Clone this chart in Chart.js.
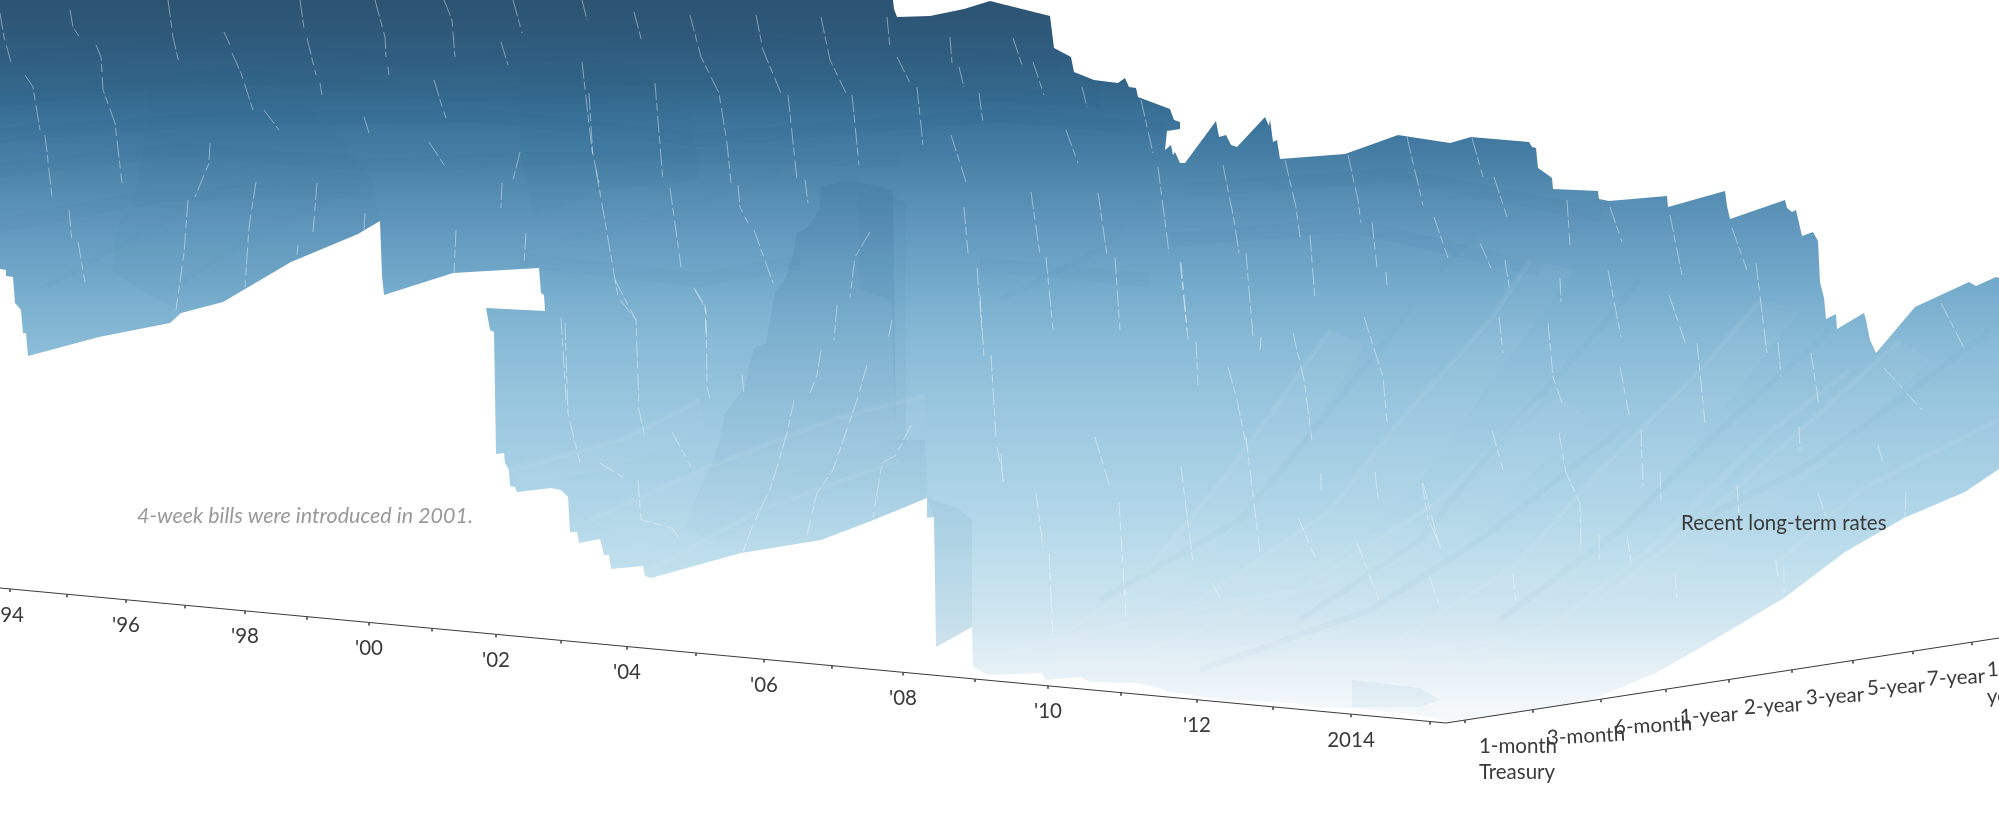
<!DOCTYPE html>
<html><head><meta charset="utf-8">
<style>html,body{margin:0;padding:0;background:#fff}canvas{display:block}</style>
<script src="https://cdn.jsdelivr.net/npm/chart.js@4"></script>
</head><body><canvas id="c" width="1999" height="822"></canvas>
<script>
const surfaceOutline=[[0,0],[893,0],[894,9],[897,17],[930,16],[964,9],[990,1],[1050,16],[1054,48],[1071,57],[1074,72],[1094,80],[1118,83],[1125,78],[1129,87],[1136,88],[1138,97],[1170,109],[1174,120],[1180,122],[1180,129],[1167,131],[1165,150],[1171,145],[1173,155],[1175,152],[1180,163],[1185,163],[1216,121],[1219,137],[1226,135],[1231,145],[1237,147],[1265,117],[1269,126],[1270,119],[1273,142],[1277,140],[1280,159],[1345,154],[1398,135],[1450,143],[1471,137],[1529,142],[1532,147],[1536,148],[1538,168],[1548,175],[1552,178],[1553,189],[1598,191],[1599,199],[1609,201],[1667,196],[1668,207],[1725,191],[1727,206],[1730,219],[1785,200],[1787,208],[1792,212],[1796,210],[1802,236],[1813,232],[1818,241],[1820,282],[1824,298],[1826,319],[1836,314],[1837,329],[1864,313],[1866,320],[1870,340],[1876,353],[1915,307],[1969,282],[1976,286],[1996,277],[1999,278],[1999,469],[1965,492],[1904,518],[1845,552],[1784,598],[1717,638],[1656,673],[1591,700],[1537,710],[1446,722],[1436,718],[1400,713],[1348,708],[1310,707],[1294,703],[1225,700],[1168,692],[1160,688],[1137,683],[1090,682],[1080,677],[1045,680],[1042,673],[988,675],[973,667],[972,627],[936,647],[934,517],[927,518],[927,498],[871,521],[821,540],[741,553],[651,578],[645,576],[643,566],[611,569],[609,555],[604,555],[600,539],[579,543],[577,532],[570,532],[568,497],[561,490],[551,488],[517,492],[515,487],[510,486],[509,470],[505,463],[504,453],[496,454],[494,332],[490,330],[486,308],[545,311],[544,295],[541,293],[539,268],[453,273],[384,295],[382,275],[380,221],[358,234],[291,262],[223,302],[181,313],[170,323],[99,337],[28,356],[26,333],[23,333],[21,310],[15,303],[13,277],[6,276],[6,270],[0,269]];

const panel2007=[[821,187],[841,182],[859,182],[893,190],[896,440],[925,440],[927,498],[871,521],[821,540],[741,553],[684,528],[692,507],[703,483],[712,462],[720,440],[725,413],[745,387],[750,363],[754,348],[766,343],[775,293],[786,277],[795,247],[797,233],[808,227],[819,210]];
const panelStrip=[[858,192],[893,197],[906,203],[906,445],[896,440],[892,300],[860,290]];
const panelFront=[[927,498],[934,517],[936,647],[972,627],[972,520],[958,508]];
const panelLeft=[[151,83],[300,95],[373,180],[378,221],[358,234],[291,262],[223,302],[181,313],[113,273],[117,227],[134,200],[145,143]];
const panelUpper=[[520,60],[620,55],[690,110],[700,180],[600,190],[534,217],[520,150]];
const panelLow=[[1352,680],[1420,688],[1440,700],[1420,707],[1352,707]];

const fanWedges=[
[[1400,640],[1520,560],[1600,470],[1700,370],[1760,300],[1800,310],[1730,400],[1640,510],[1560,590],[1450,655]],
[[1200,600],[1330,510],[1400,420],[1490,320],[1530,260],[1575,270],[1500,370],[1430,470],[1350,550],[1240,615]],
[[1600,600],[1700,520],[1800,430],[1900,340],[1930,360],[1830,460],[1720,550],[1630,610]],
[[1053,640],[1130,590],[1230,470],[1330,330],[1365,345],[1270,490],[1170,595],[1085,640]],
[[1053,640],[1200,600],[1352,625],[1210,660],[1060,672]],
[[1150,682],[1300,645],[1500,625],[1400,665],[1250,688]],
[[1300,570],[1440,500],[1560,395],[1590,420],[1470,530],[1340,590]],
[[590,520],[700,470],[830,420],[925,395],[925,430],[800,470],[640,550]],
[[510,470],[620,440],[700,400],[705,430],[610,470],[520,485]]];
const lightRidges=[
[[1400,640],[1520,560],[1600,470],[1700,370],[1760,300]],
[[1600,600],[1700,520],[1800,430],[1900,340]],
[[1200,600],[1330,510],[1400,420],[1490,320],[1530,260]],
[[1053,640],[1130,590],[1230,470],[1330,330]],
[[1120,660],[1300,590],[1440,500],[1540,400]],
[[1400,680],[1560,620],[1660,540],[1760,440],[1850,370]],
[[1780,560],[1860,490],[1999,420]],
[[1000,655],[1100,630],[1240,600],[1330,585]],
[[1100,665],[1230,650],[1352,630]],
[[1150,682],[1300,665],[1500,640]],
[[1240,690],[1380,672],[1560,655]],
[[590,520],[700,470],[830,420],[925,395]],
[[650,570],[760,510],[900,460]],
[[510,470],[620,440],[700,400]]];
const darkRidges=[
[[1500,620],[1620,530],[1720,430],[1830,330]],
[[1300,620],[1420,540],[1500,440],[1590,340],[1640,280]],
[[1100,600],[1240,520],[1330,410],[1410,310]],
[[1200,670],[1370,610],[1480,540],[1620,430]],
[[1700,520],[1800,470],[1900,400],[1990,330]],
[[1000,300],[1100,250],[1150,200]],
[[40,290],[130,240],[260,170]],
[[170,290],[260,230],[350,190]],
[[560,240],[680,210],[780,170]],
[[1440,270],[1480,230],[1560,200]]];
const contourBands=[
[[0,60],[180,45],[430,62],[700,42],[950,55],[1060,62]],
[[0,100],[220,75],[460,95],[760,85],[1100,100]],
[[0,135],[200,120],[480,115],[700,140],[1000,115],[1165,130]],
[[0,170],[180,150],[380,165],[640,155],[900,160]],
[[1185,190],[1400,175],[1600,215]],
[[1170,240],[1350,225],[1540,270]],
[[0,225],[160,195],[360,190]],
[[520,260],[700,280],[800,262]],
[[980,265],[1150,280]]];

const streaks=[
[[70,10],[73,27],[80,38]],[[96,45],[101,57],[103,90],[115,123],[122,183]],[[168,0],[173,37],[179,63]],[[224,32],[230,45]],[[232,53],[241,73],[253,110]],[[300,0],[304,28]],[[307,38],[316,75]],[[320,83],[322,95]],[[375,0],[385,37],[386,57]],[[388,67],[389,75]],[[444,0],[452,20],[455,57]],[[434,80],[440,100],[446,118]],[[501,42],[508,65]],[[513,0],[522,33]],[[582,62],[592,150],[599,183]],[[0,13],[4,37],[11,62]],[[25,75],[33,87],[40,130]],[[45,135],[52,197]],[[69,210],[72,242]],[[78,242],[85,282]],[[210,143],[209,163],[195,197]],[[188,200],[184,253],[176,310]],[[256,182],[249,227],[245,287]],[[317,183],[313,232]],[[298,245],[297,255]],[[456,230],[454,273]],[[520,152],[513,180]],[[502,183],[501,208]],[[429,142],[446,168]],[[264,110],[279,130]],[[364,117],[369,133]],[[526,233],[524,263]],[[561,318],[566,400]],[[365,213],[364,230]],
[[582,0],[587,20]],[[634,12],[642,42]],[[690,15],[701,57],[719,93],[727,143],[731,183]],[[738,185],[740,207],[748,223]],[[756,15],[763,50],[781,93]],[[788,95],[797,180]],[[805,180],[808,203]],[[821,17],[830,60],[846,93]],[[852,95],[859,165]],[[887,17],[890,48]],[[897,57],[910,83]],[[917,87],[923,145]],[[950,37],[952,63]],[[959,67],[964,87]],[[979,93],[983,123]],[[1013,38],[1022,65]],[[1033,62],[1044,95]],[[1082,87],[1087,107]],[[1141,100],[1153,153]],[[1066,130],[1078,163]],[[951,135],[966,182]],[[589,93],[593,158]],[[596,170],[607,233],[618,297],[636,320]],[[655,83],[663,182]],[[670,188],[681,267]],[[694,288],[705,305],[706,333]],[[754,230],[773,283]],[[964,207],[968,253]],[[977,268],[982,333]],[[1031,192],[1040,255]],[[1046,257],[1053,330]],[[1098,193],[1107,255]],[[1115,257],[1120,330]],[[1158,167],[1169,253]],[[1180,262],[1187,330]],[[870,232],[855,257],[850,297]],[[837,305],[834,340]],[[892,320],[888,340]],
[[1181,262],[1188,340]],[[1196,342],[1198,385]],[[1223,165],[1234,220],[1239,253]],[[1246,253],[1253,337]],[[1261,337],[1260,350]],[[1228,367],[1237,400],[1245,440]],[[1285,160],[1296,207],[1300,237]],[[1310,235],[1315,300]],[[1293,333],[1304,380],[1312,440]],[[1348,155],[1358,200],[1361,223]],[[1372,222],[1377,267]],[[1386,272],[1387,285]],[[1364,317],[1383,377],[1387,422]],[[1407,137],[1423,205]],[[1434,217],[1448,258]],[[1472,138],[1483,177]],[[1494,177],[1507,217]],[[1480,243],[1491,268]],[[1505,260],[1510,293]],[[1499,317],[1503,353]],[[1548,323],[1553,377],[1562,403]],[[1567,200],[1570,245]],[[1560,278],[1561,302]],[[1610,207],[1622,242]],[[1608,270],[1621,337]],[[1670,215],[1682,275]],[[1669,295],[1686,345]],[[1697,343],[1705,423]],[[1620,367],[1629,415]],[[1732,228],[1747,270]],[[1756,263],[1767,353]],[[1778,342],[1781,377]],[[1811,353],[1819,405]],[[1941,303],[1965,350]],[[1884,368],[1922,410]],
[[1001,453],[1003,482]],[[1036,493],[1043,547]],[[1049,553],[1053,640]],[[1095,437],[1110,487]],[[1119,502],[1126,617]],[[1181,467],[1193,563]],[[1212,583],[1220,598]],[[1246,437],[1260,553]],[[1298,517],[1315,557]],[[1357,543],[1380,602]],[[1430,523],[1443,553]],[[1422,483],[1428,520]],[[1430,578],[1440,607]],[[1375,472],[1378,498]],[[1321,473],[1321,490]],
[[1492,430],[1503,470]],[[1559,433],[1566,473],[1580,503],[1581,547]],[[1641,430],[1643,487]],[[1660,472],[1661,500]],[[1627,535],[1631,563]],[[1737,485],[1739,515]],[[1799,427],[1800,450]],[[1818,493],[1826,517]],[[1675,573],[1677,598]],[[1599,533],[1599,560]],[[1906,492],[1905,517]],[[1878,445],[1883,463]],[[1513,573],[1516,605]],[[1423,483],[1440,548]],[[1784,567],[1784,593]],[[1776,560],[1778,577]],
[[565,323],[568,413],[580,463]],[[615,280],[636,320],[639,410],[645,437]],[[695,290],[706,310],[707,387],[710,398]],[[600,463],[624,478]],[[638,480],[641,520],[672,528],[680,540]],[[672,432],[691,467]],[[742,375],[744,395]],[[821,350],[817,375],[810,393]],[[794,400],[787,433],[771,487],[752,527],[743,552]],[[867,365],[856,403],[833,470],[817,493],[806,540]],[[911,425],[896,455],[882,463],[873,518]],[[980,295],[984,357]],[[991,355],[996,437]],[[997,447],[1004,482]]];

const dateAxisEnds=[[0,588],[1446,723]];
const maturityAxisEnds=[[1446,723],[1999,638]];
const dateTicks=[10,67,126,185,245,307,369,432,496,561,627,696,764,832,903,975,1048,1121,1197,1273,1351,1430];
const maturityTicks=[1465,1533,1601,1666,1729,1792,1853,1913,1972];
const dateLabels=["'94","'96","'98","'00","'02","'04","'06","'08","'10","'12","2014"];
const dateLabelAt=[10,126,245,369,496,627,764,903,1048,1197,1351];
const maturityLabels=["1-month","3-month","6-month","1-year","2-year","3-year","5-year","7-year"];
const maturityLabelAt=[1518,1586,1653,1709,1773,1835,1896,1956];

const canvas=document.getElementById('c');
const g2d=canvas.getContext('2d');
const ramp=[[0,'#2c5371'],[40,'#2f5a7c'],[80,'#326487'],[120,'#3a7299'],[150,'#447ca3'],[190,'#548bb0'],[230,'#6298bd'],[280,'#72a9ca'],[340,'#88bad6'],[400,'#98c5de'],[450,'#a3cde3'],[500,'#aed4e7'],[560,'#bedeec'],[620,'#d0e6f0'],[660,'#e2eef5'],[700,'#f1f6fa'],[730,'#f7fafc']];
const surfaceFill=g2d.createLinearGradient(0,0,0,822);
ramp.forEach(s=>surfaceFill.addColorStop(s[0]/822,s[1]));
const panelFill=g2d.createLinearGradient(0,0,0,822);
panelFill.addColorStop(180/822,'rgba(40,95,140,.15)');
panelFill.addColorStop(440/822,'rgba(40,95,140,.06)');
panelFill.addColorStop(545/822,'rgba(40,95,140,.01)');

const pts=a=>a.map(p=>({x:p[0],y:p[1]}));
const withGaps=list=>{const o=[];list.forEach(f=>{f.forEach(p=>o.push({x:p[0],y:p[1]}));o.push({x:f[0][0],y:NaN});});return o;};
const axisY=(ends,x)=>ends[0][1]+(x-ends[0][0])*(ends[1][1]-ends[0][1])/(ends[1][0]-ends[0][0]);
const tickMarks=(ticks,ends)=>withGaps(ticks.map(x=>[[x,axisY(ends,x)],[x,axisY(ends,x)+3]]));
const poly=(a,fill)=>({data:pts(a),showLine:true,fill:'shape',backgroundColor:fill,borderWidth:0,pointRadius:0,tension:0});
const lines=(d,color,w,dash)=>({data:d,showLine:true,fill:false,borderColor:color,borderWidth:w,borderDash:dash||[],pointRadius:0,tension:0,spanGaps:false});

// Chart.js paints the first dataset last, so the stack is listed back to front and reversed.
const datasets=[
 poly(surfaceOutline,surfaceFill),
 poly(panelLeft,'rgba(30,80,120,.03)'),
 poly(panelUpper,'rgba(30,80,120,.03)'),
 ...fanWedges.map(w=>poly(w,'rgba(255,255,255,.035)')),
 poly(panel2007,panelFill),
 poly(panelStrip,'rgba(40,95,140,.05)'),
 poly(panelFront,'rgba(60,130,170,.08)'),
 poly(panelLow,'rgba(110,170,205,.1)'),
 lines(withGaps(contourBands),'rgba(20,60,95,.02)',14),
 lines(withGaps(darkRidges),'rgba(60,120,165,.03)',6),
 lines(withGaps(lightRidges),'rgba(255,255,255,.06)',5),
 lines(withGaps(streaks),'rgba(255,255,255,.42)',1,[17,3,8,5]),
 lines(pts(dateAxisEnds),'#3c3c3c',1.2),
 lines(pts(maturityAxisEnds),'#3c3c3c',1.2),
 lines(tickMarks(dateTicks,dateAxisEnds),'#555',1),
 lines(tickMarks(maturityTicks,maturityAxisEnds),'#555',1)
].reverse();

const textLayer={id:'textLayer',afterDatasetsDraw(chart){
 const c=chart.ctx,X=chart.scales.x,Y=chart.scales.y;
 const put=(t,x,y,font,col,align,rot)=>{c.save();c.translate(X.getPixelForValue(x),Y.getPixelForValue(y));c.rotate((rot||0)*Math.PI/180);c.font=font;c.fillStyle=col;c.textAlign=align||'center';c.textBaseline='middle';c.fillText(t,0,0);c.restore();};
 const f='400 20.5px "Lato"';
 dateLabels.forEach((t,i)=>put(t,dateLabelAt[i],axisY(dateAxisEnds,dateLabelAt[i])+26,f,'#3a3a3a'));
 maturityLabels.forEach((t,i)=>{const ti=maturityTicks[i];put(t,maturityLabelAt[i],axisY(maturityAxisEnds,ti)+26.5,f,'#3a3a3a','center',i?-3:0);});
 put('Treasury',1517,772,f,'#3a3a3a');
 put('10-',1987,670,f,'#3a3a3a','left',-3);
 put('year',1987,697,f,'#3a3a3a','left',-3);
 put('Recent long-term rates',1681,523,f,'#3a3a3a','left');
 put('4-week bills were introduced in 2001.',137,516,'italic 400 21.5px "Lato"','#999','left');
}};

new Chart(canvas,{type:'scatter',data:{datasets},plugins:[textLayer],options:{
 responsive:false,animation:false,
 layout:{padding:0},
 plugins:{legend:{display:false},tooltip:{enabled:false}},
 scales:{x:{type:'linear',min:0,max:1999,display:false},y:{type:'linear',min:0,max:822,reverse:true,display:false}}
}});
</script></body></html>
